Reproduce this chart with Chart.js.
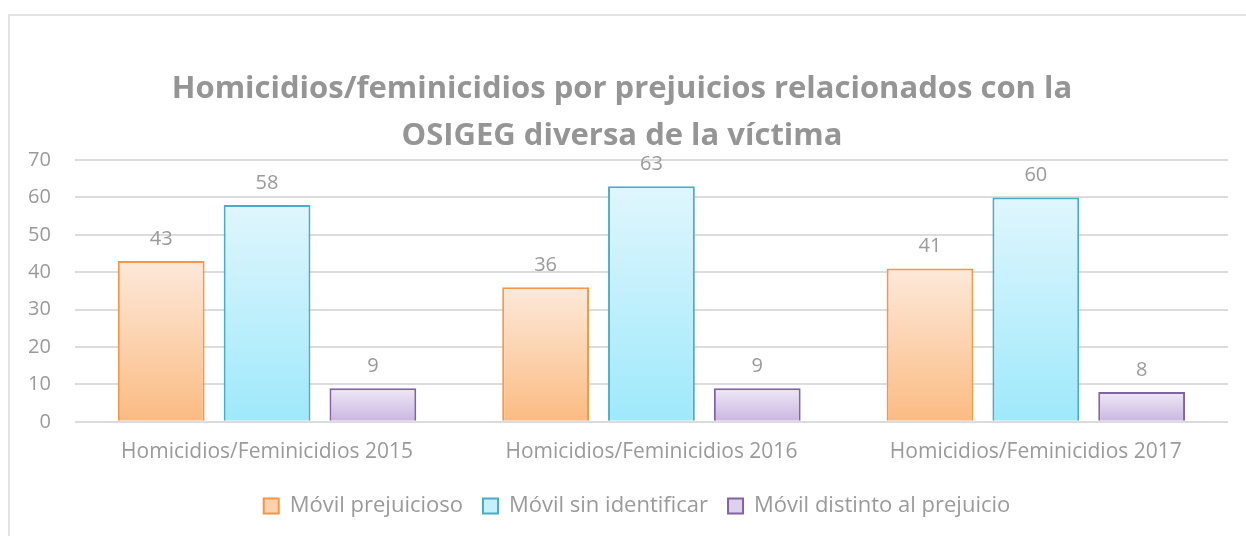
<!DOCTYPE html>
<html>
<head>
<meta charset="utf-8">
<script src="https://cdn.jsdelivr.net/npm/chart.js@4.4.1/dist/chart.umd.min.js"></script>
<style>
  html, body { margin: 0; padding: 0; background: #fff; overflow: hidden; }
  #marco { position: absolute; left: 8px; top: 14px; width: 1400px; height: 700px; border: 2px solid #e3e3e3; }
  #caja { position: absolute; left: 0; top: 0; width: 1246px; height: 536px; }
</style>
</head>
<body>
<div id="marco"></div>
<div id="caja"><canvas id="grafica"></canvas></div>
<script>
const categorias = ['Homicidios/Feminicidios 2015', 'Homicidios/Feminicidios 2016', 'Homicidios/Feminicidios 2017'];
const movilPrejuicioso = [43, 36, 41];
const movilSinIdentificar = [58, 63, 60];
const movilDistinto = [9, 9, 8];
const ticksY = [0, 10, 20, 30, 40, 50, 60, 70];

const FUENTE = '"Open Sans", "Noto Sans", sans-serif';
const GRIS = '#9a9a9a';

function degradado(arriba, abajo) {
    return function (ctx) {
        const chart = ctx.chart;
        if (!chart.chartArea || ctx.type !== 'data') return abajo;
        const y = chart.scales.y;
        const g = chart.ctx.createLinearGradient(0, y.getPixelForValue(ctx.raw), 0, y.getPixelForValue(0));
        g.addColorStop(0, arriba);
        g.addColorStop(1, abajo);
        return g;
    };
}

// etiquetas de valor encima de cada barra
const etiquetasValor = {
    id: 'etiquetasValor',
    afterDatasetsDraw(chart) {
        const ctx = chart.ctx;
        ctx.save();
        ctx.font = '20px ' + FUENTE;
        ctx.fillStyle = GRIS;
        ctx.textAlign = 'center';
        ctx.textBaseline = 'bottom';
        chart.data.datasets.forEach((ds, i) => {
            chart.getDatasetMeta(i).data.forEach((barra, j) => {
                ctx.fillText(ds.data[j], barra.x, barra.y - 12);
            });
        });
        ctx.restore();
    }
};

// corre un poco el título y la leyenda como en el original
const desplazar = {
    id: 'desplazar',
    afterLayout(chart) {
        if (chart.titleBlock) { chart.titleBlock.left += 6; chart.titleBlock.right += 6; }
        if (chart.legend) { chart.legend.left += 21; chart.legend.right += 21; }
    }
};

new Chart(document.getElementById('grafica').getContext('2d'), {
    type: 'bar',
    data: {
        labels: categorias,
        datasets: [
            {
                label: 'Móvil prejuicioso',
                data: movilPrejuicioso,
                backgroundColor: degradado('#fde9da', '#fbbb82'),
                borderColor: '#f79646',
                borderWidth: 2
            },
            {
                label: 'Móvil sin identificar',
                data: movilSinIdentificar,
                backgroundColor: degradado('#e0f6fd', '#9ee9fb'),
                borderColor: '#4bacc6',
                borderWidth: 2
            },
            {
                label: 'Móvil distinto al prejuicio',
                data: movilDistinto,
                backgroundColor: degradado('#efe9f6', '#cab5e2'),
                borderColor: '#8064a2',
                borderWidth: 2
            }
        ]
    },
    options: {
        responsive: true,
        maintainAspectRatio: false,
        animation: false,
        categoryPercentage: 0.826,
        barPercentage: 0.82,
        layout: { padding: { left: 4, right: 18, top: 0, bottom: 9 } },
        scales: {
            x: {
                grid: { display: false },
                border: { display: false },
                ticks: { color: GRIS, font: { family: FUENTE, size: 21 }, padding: 10 }
            },
            y: {
                min: 0,
                max: 70,
                afterBuildTicks(axis) { axis.ticks = ticksY.map(v => ({ value: v })); },
                grid: { color: '#dcdcdc', lineWidth: 2, drawTicks: false },
                border: { display: false },
                ticks: { color: GRIS, font: { family: FUENTE, size: 20 }, padding: 24 }
            }
        },
        plugins: {
            title: {
                display: true,
                text: ['Homicidios/feminicidios por prejuicios relacionados con la', 'OSIGEG diversa de la víctima'],
                color: '#959595',
                font: { family: FUENTE, size: 31, weight: 'bold', lineHeight: 1.5 },
                padding: { top: 66, bottom: 1 }
            },
            legend: {
                position: 'bottom',
                labels: {
                    color: GRIS,
                    font: { family: FUENTE, size: 22 },
                    boxWidth: 15,
                    boxHeight: 15,
                    padding: 20,
                    generateLabels(chart) {
                        const rellenos = ['#fcd2ae', '#c4f1fb', '#ddd1ec'];
                        return chart.data.datasets.map((ds, i) => ({
                            text: ds.label,
                            fillStyle: rellenos[i],
                            strokeStyle: ds.borderColor,
                            lineWidth: 2,
                            fontColor: GRIS,
                            datasetIndex: i,
                            hidden: false
                        }));
                    }
                }
            },
            tooltip: { enabled: false }
        }
    },
    plugins: [etiquetasValor, desplazar]
});
</script>
</body>
</html>
